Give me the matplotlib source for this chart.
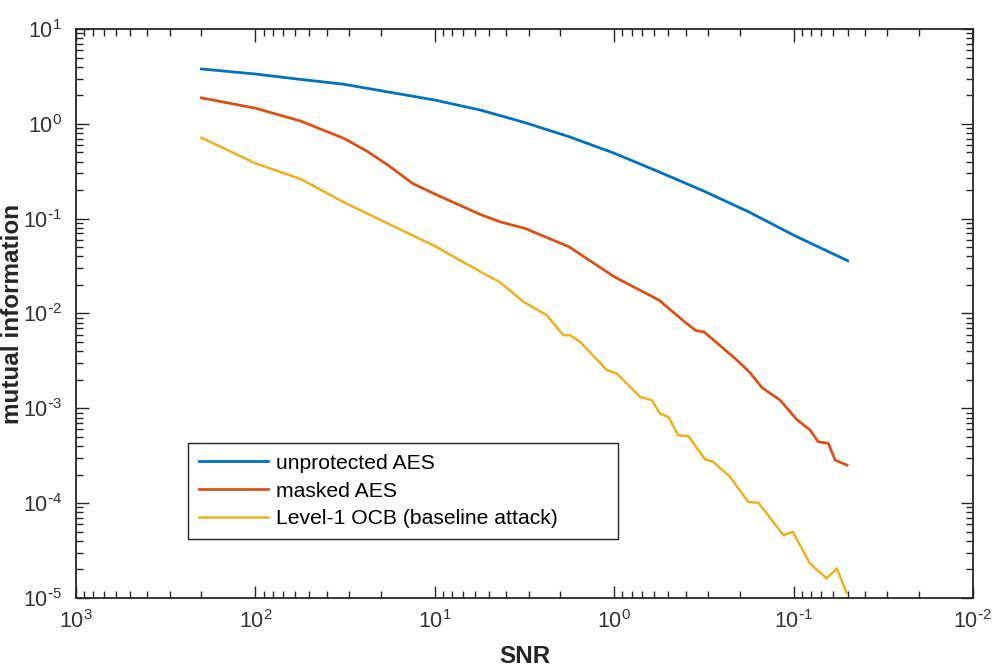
import matplotlib
matplotlib.use("Agg")
import matplotlib.pyplot as plt
from matplotlib.ticker import LogLocator, NullFormatter, FuncFormatter
import numpy as np

plt.rcParams['font.family'] = ['Liberation Sans', 'DejaVu Sans']
plt.rcParams['mathtext.default'] = 'regular'

# values
snr_unprot = [200, 100, 56, 32, 18, 10, 5.6, 3.2, 1.78, 1.0, 0.56, 0.32, 0.178, 0.1, 0.05]
mi_unprot = [3.79, 3.35, 2.94, 2.61, 2.16, 1.78, 1.40, 1.04, 0.73, 0.49, 0.31, 0.197, 0.118, 0.067, 0.036]

snr_masked = [200, 100, 56, 32, 23.7, 18, 13.3, 10, 5.6, 4.34, 3.15, 1.79, 1.0, 0.562, 0.40, 0.35,
              0.316, 0.21, 0.177, 0.15, 0.119, 0.096, 0.081, 0.073, 0.064, 0.0587, 0.0504]
mi_masked = [1.88, 1.46, 1.07, 0.70, 0.51, 0.36, 0.235, 0.182, 0.111, 0.0927, 0.079, 0.0506,
             0.0244, 0.0138, 0.0080, 0.0066, 0.0064, 0.0033, 0.00243, 0.00165, 0.00122, 0.00076,
             0.00059, 0.000444, 0.000427, 0.000284, 0.000252]

snr_ocb = [200, 100, 56, 32, 18, 10, 5.6, 4.34, 3.21, 2.38, 1.92, 1.76, 1.55, 1.10, 0.968, 0.718,
           0.618, 0.556, 0.499, 0.440, 0.386, 0.312, 0.281, 0.226, 0.179, 0.157, 0.114, 0.101,
           0.0811, 0.0655, 0.0575, 0.0506]
mi_ocb = [0.713, 0.383, 0.262, 0.148, 0.0877, 0.0514, 0.0277, 0.0214, 0.0133, 0.0096, 0.0059,
          0.0059, 0.00503, 0.00253, 0.00233, 0.00132, 0.00122, 0.00088, 0.00081, 0.00052, 0.00051,
          0.00029, 0.000273, 0.000189, 0.000103, 0.000101, 4.59e-05, 4.98e-05, 2.31e-05,
          1.61e-05, 2.05e-05, 1.13e-05]

labels = ['unprotected AES', 'masked AES', 'Level-1 OCB (baseline attack)']
colors = ['#0072BD', '#D95319', '#EDB120']
x_decades = [3, 2, 1, 0, -1, -2]
y_decades = [-5, -4, -3, -2, -1, 0, 1]

fig = plt.figure(figsize=(9.94, 6.71), dpi=100)
ax = fig.add_axes([0.0765, 0.1088, 0.9024, 0.848])

ax.loglog(snr_unprot, mi_unprot, color=colors[0], lw=2.0, label=labels[0])
ax.loglog(snr_masked, mi_masked, color=colors[1], lw=2.0, label=labels[1])
ax.loglog(snr_ocb, mi_ocb, color=colors[2], lw=1.8, label=labels[2])

ax.set_xlim(1e3, 1e-2)  # SNR axis runs backwards
ax.set_ylim(1e-5, 1e1)


def dec_fmt(v, pos):
    # matlab writes the exponent with a plain hyphen
    n = int(round(np.log10(v)))
    if n < 0:
        return r'$10^{\text{-}%d}$' % (-n)
    return r'$10^{%d}$' % n


# matlab style box with ticks on every side
ax.set_xticks([10.0 ** d for d in x_decades])
ax.set_yticks([10.0 ** d for d in y_decades])
ax.xaxis.set_minor_locator(LogLocator(base=10, subs=range(2, 10), numticks=20))
ax.yaxis.set_minor_locator(LogLocator(base=10, subs=range(2, 10), numticks=20))
ax.xaxis.set_major_formatter(FuncFormatter(dec_fmt))
ax.yaxis.set_major_formatter(FuncFormatter(dec_fmt))
ax.xaxis.set_minor_formatter(NullFormatter())
ax.yaxis.set_minor_formatter(NullFormatter())
ax.tick_params(which='both', direction='in', top=True, right=True, color='#262626',
               labelcolor='#333333', labelsize=15.5)
ax.tick_params(which='major', length=9, width=1.0)
ax.tick_params(which='minor', length=5, width=1.0)
ax.tick_params(axis='y', pad=10)
ax.tick_params(axis='x', pad=9)
for sp in ax.spines.values():
    sp.set_color('#262626')
    sp.set_linewidth(1.3)

ax.set_xlabel('SNR', fontsize=17.5, fontweight='bold', color='#262626')
ax.xaxis.set_label_coords(0.5, -0.082)
ax.set_ylabel('mutual information', fontsize=17.5, fontweight='bold', color='#262626')
ax.yaxis.set_label_coords(-0.058, 0.5)

leg = ax.legend(loc='lower left', bbox_to_anchor=(0.125, 0.1037, 0.479, 0.17), mode='expand',
                fontsize=15.2, fancybox=False, framealpha=1, edgecolor='#262626',
                handlelength=3.3, handletextpad=0.35, labelspacing=0.42, borderpad=0.5,
                borderaxespad=0)
leg.get_frame().set_linewidth(1.0)

fig.savefig('out.png', dpi=100, facecolor='white')
